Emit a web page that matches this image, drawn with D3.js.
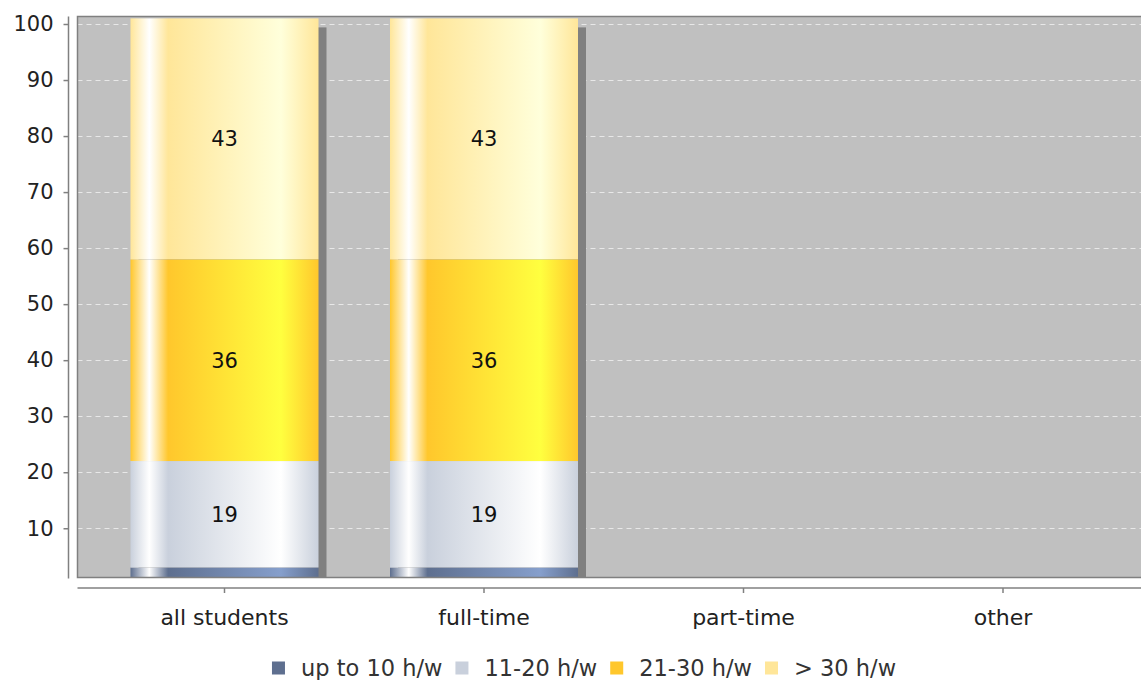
<!DOCTYPE html>
<html>
<head>
<meta charset="utf-8">
<script src="https://cdn.jsdelivr.net/npm/d3@7"></script>
<style>
  html, body { margin: 0; padding: 0; background: #ffffff; }
  svg { display: block; font-family: "DejaVu Sans", sans-serif; }
</style>
</head>
<body>
<svg id="chart" width="1141" height="680"></svg>
<script>
// ---- data ----
const categories = ["all students", "full-time", "part-time", "other"];
const seriesNames = ["up to 10 h/w", "11-20 h/w", "21-30 h/w", "> 30 h/w"];
const seriesColors = ["#5e6f8f", "#c9d0dc", "#ffc72c", "#ffe699"];
const upTo10 = [3, 3, 0, 0];
const h11to20 = [19, 19, 0, 0];
const h21to30 = [36, 36, 0, 0];
const over30 = [43, 43, 0, 0];
const yTicks = [10, 20, 30, 40, 50, 60, 70, 80, 90, 100];

const seriesValues = [upTo10, h11to20, h21to30, over30];
const rows = categories.map((c, i) => {
  const r = { category: c };
  seriesNames.forEach((s, j) => { r[s] = seriesValues[j][i]; });
  return r;
});

// ---- layout ----
const svg = d3.select("#chart");
const plot = { left: 77.5, top: 16.5, right: 1142, bottom: 577.5 };

const x = d3.scaleBand()
  .domain(categories)
  .range([94.75, 1132.75])
  .paddingInner(0.2755)
  .paddingOuter(0.2755 / 2);

const y = d3.scaleLinear().domain([0, 100]).range([584.3, 24]);

function brighter(hex) {
  const c = d3.rgb(hex);
  return d3.rgb(Math.min(255, c.r / 0.7), Math.min(255, c.g / 0.7), Math.min(255, c.b / 0.7)).formatHex();
}

const defs = svg.append("defs");
defs.append("clipPath").attr("id", "plotClip")
  .append("rect")
  .attr("x", plot.left).attr("y", plot.top)
  .attr("width", plot.right - plot.left).attr("height", plot.bottom - plot.top);

seriesColors.forEach((c, i) => {
  const c1 = brighter(c);
  const g = defs.append("linearGradient").attr("id", "grad" + i)
    .attr("x1", "0").attr("y1", "0").attr("x2", "1").attr("y2", "0");
  [[0, c], [0.1, "#ffffff"], [0.2, c], [0.8, c1], [1, c]].forEach(([o, col]) => {
    g.append("stop").attr("offset", o).attr("stop-color", col);
  });
});

// plot background
svg.append("rect")
  .attr("x", plot.left).attr("y", plot.top)
  .attr("width", plot.right - plot.left).attr("height", plot.bottom - plot.top)
  .attr("fill", "#c0c0c0");

// gridlines
svg.append("g").selectAll("line").data(yTicks).join("line")
  .attr("x1", plot.left).attr("x2", plot.right)
  .attr("y1", d => Math.round(y(d)) + 0.5).attr("y2", d => Math.round(y(d)) + 0.5)
  .attr("stroke", "#e8e8e8").attr("stroke-width", 1)
  .attr("stroke-dasharray", "5,4");

const stack = d3.stack().keys(seriesNames)(rows);

const barsG = svg.append("g").attr("clip-path", "url(#plotClip)");

// shadows
const shadowOffX = 8, shadowOffY = 9;
barsG.append("g").selectAll("rect")
  .data(rows.filter(r => seriesNames.some(s => r[s] > 0)))
  .join("rect")
  .attr("x", d => x(d.category) + shadowOffX)
  .attr("y", d => y(d3.sum(seriesNames, s => d[s])) + shadowOffY)
  .attr("width", x.bandwidth())
  .attr("height", d => y(0) - y(d3.sum(seriesNames, s => d[s])))
  .attr("fill", "#808080");

// bars
stack.forEach((layer, i) => {
  barsG.append("g").selectAll("rect")
    .data(layer.filter(d => d[1] - d[0] > 0))
    .join("rect")
    .attr("x", d => x(d.data.category))
    .attr("y", d => y(d[1]))
    .attr("width", x.bandwidth())
    .attr("height", d => y(d[0]) - y(d[1]))
    .attr("fill", "url(#grad" + i + ")");
});

// value labels
stack.forEach((layer, i) => {
  svg.append("g").selectAll("text")
    .data(layer.filter(d => (y(d[0]) - y(d[1])) > 30))
    .join("text")
    .attr("x", d => x(d.data.category) + x.bandwidth() / 2)
    .attr("y", d => (y(d[0]) + y(d[1])) / 2)
    .attr("dy", "0.36em")
    .attr("text-anchor", "middle")
    .attr("font-size", 21)
    .attr("fill", "#111")
    .text(d => d[1] - d[0]);
});

// plot border
svg.append("path")
  .attr("d", `M${plot.right},${plot.top}H${plot.left}V${plot.bottom}H${plot.right}`)
  .attr("fill", "none").attr("stroke", "#808080").attr("stroke-width", 1.5);

// y axis
const yAxis = d3.axisLeft(y).tickValues(yTicks).tickSize(5).tickPadding(10).tickFormat(d3.format("d"));
const yg = svg.append("g").attr("transform", "translate(68.5,0)").call(yAxis);
yg.select(".domain").attr("d", `M0,${plot.top}V${plot.bottom + 1}`).attr("stroke", "#808080").attr("stroke-width", 1.5);
yg.selectAll(".tick line").attr("stroke", "#808080").attr("stroke-width", 1.5);
yg.selectAll(".tick text").attr("font-size", 21).attr("fill", "#222").attr("font-family", "DejaVu Sans");

// x axis
const xAxis = d3.axisBottom(x).tickSize(5).tickPadding(16);
const xg = svg.append("g").attr("transform", "translate(0,588)").call(xAxis);
xg.select(".domain").attr("d", `M${plot.left},0H${plot.right}`).attr("stroke", "#808080").attr("stroke-width", 1.5);
xg.selectAll(".tick line").attr("stroke", "#808080").attr("stroke-width", 1.5);
xg.selectAll(".tick text").attr("font-size", 22).attr("fill", "#222").attr("font-family", "DejaVu Sans");

// legend
const legend = svg.append("g");
const items = legend.selectAll("g").data(seriesNames).join("g");
items.append("rect").attr("width", 13).attr("height", 13).attr("y", -6.5)
  .attr("fill", (d, i) => seriesColors[i]);
items.append("text").attr("x", 29).attr("dy", "0.36em")
  .attr("font-size", 22.5).attr("fill", "#333").text(d => d);
let cx = 0;
const positions = [];
items.each(function (d) {
  const w = 29 + this.querySelector("text").getComputedTextLength();
  positions.push(cx);
  cx += w + 13;
});
const totalW = cx - 13;
const startX = 584 - totalW / 2;
items.attr("transform", (d, i) => `translate(${startX + positions[i]},668)`);
</script>
</body>
</html>
